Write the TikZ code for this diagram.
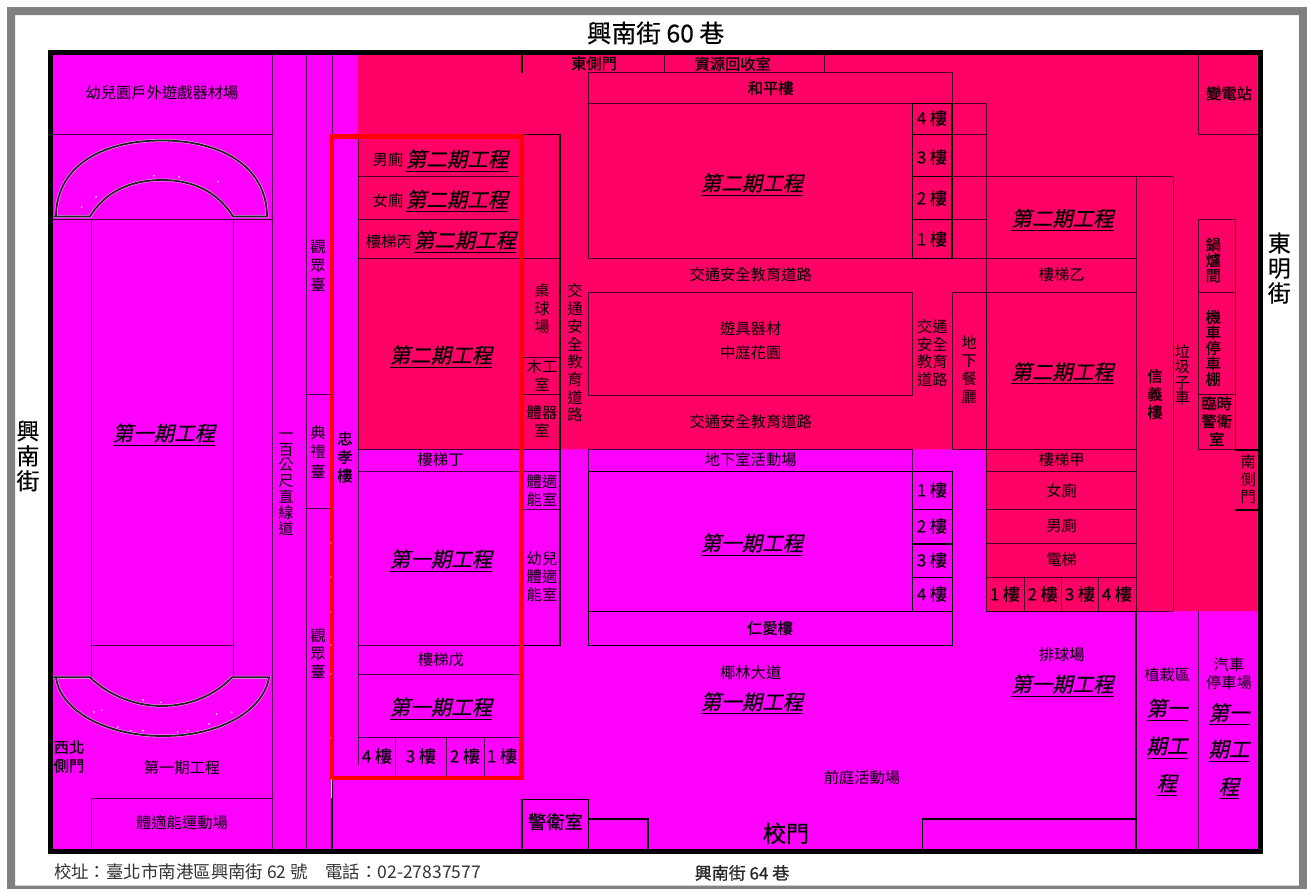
\documentclass[tikz,border=0pt]{standalone}
\usepackage{fontspec}
\setmainfont{Noto Sans CJK TC}
\newfontfamily\itf[FakeSlant=0.22,FakeBold=0.6]{Noto Sans CJK TC}
\newfontfamily\fbf[FakeBold=0.7]{Noto Sans CJK TC}
\newfontfamily\flf[FakeBold=0.3]{Noto Sans CJK TC}
\definecolor{mag}{HTML}{FF00FF}
\definecolor{pnk}{HTML}{FF0066}
\definecolor{frm}{HTML}{808080}
\newcounter{tn}
\newcommand\ulx[1]{\setbox0\hbox{#1}\rlap{\raisebox{-4.9pt}[0pt][0pt]{\rule{\wd0}{1pt}}}\box0}
\def\putt(#1,#2)[#3]#4{\stepcounter{tn}\node[lbl,#3] (t\arabic{tn}) at (#1,#2) {#4};}
\newcommand\ph[1]{\ulx{\itf #1}}
\tikzset{
 lbl/.style={inner sep=0pt,outer sep=0pt,align=center,text=black},
 fs/.style 2 args={font=\fontsize{#1}{#2}\selectfont},
 r15/.style={fs={15.3}{18}},
 v155/.style={fs={15.3}{15.5}},
 b15/.style={font=\fontsize{15.3}{18}\selectfont\fbf},
 fl/.style={font=\fontsize{17}{20}\selectfont\flf},
 big/.style={fs={20.5}{24}},
 ln/.style={line width=0.9pt,black,opacity=0.72},
 tk/.style={line width=1.5pt,black},
 arcb/.style={line width=1.8pt,black!85},
 arch/.style={line width=3pt,white,opacity=0.55},
}
\begin{document}
\begin{tikzpicture}[x=1pt,y=-1pt]
\useasboundingbox (0,0) rectangle (1307,889);
% page frame
\fill[white] (0,0) rectangle (1307,889);
\fill[frm,even odd rule] (7,7) rectangle (1307,889) (15,15) rectangle (1299,885.5);
% outer wall and grounds
\fill[black] (48,50) rectangle (1263,853.6);
\fill[mag] (53,55) rectangle (1257.6,848.5);
\fill[pnk] (358,55) -- (1257.6,55) -- (1257.6,611) -- (986,611) -- (986,449.3) -- (358,449.3) -- cycle;
% left: running track
\draw[ln] (53,134) -- (272.6,134);
\draw[ln] (53,219) -- (272.6,219);
\draw[ln] (272.6,55) -- (272.6,848.5);
\draw[ln] (306.5,55) -- (306.5,848.5);
\draw[ln] (332,55) -- (332,135);
\draw[tk] (332,778) -- (332,848.5);
\draw[ln] (306.5,394.7) -- (332,394.7);
\draw[ln] (306.5,508.7) -- (332,508.7);
\draw[ln] (91,219) -- (91,677);
\draw[ln] (233.3,219) -- (233.3,677);
\draw[ln] (91,645) -- (233.3,645);
\draw[ln] (91,848.5) -- (91,798.7) -- (272.6,798.7);
% track curves
\foreach \s in {arch,arcb}{
 \draw[\s] (54,216.5) -- (56,216.5) .. controls (56,169) and (98,140.5) .. (161.5,140.5) .. controls (225,140.5) and (267,169) .. (267,216.5) -- (233,216.5) .. controls (218,192) and (193,180) .. (162,180) .. controls (130,180) and (105,192) .. (90,216.5) -- (56,216.5);
 \draw[\s] (54,677.3) -- (56,677.3) .. controls (60,710) and (105,736) .. (163,736) .. controls (221,736) and (264,710) .. (269,677.3) -- (232,677.3) .. controls (215,695) and (190,706) .. (162,706) .. controls (135,706) and (108,695) .. (90,677.3) -- (56,677.3);
}
\foreach \x/\y in {81.7/207,96/197,154/175.7,179/177,218/181.7,94/712,101.7/710,216.7/714,231.7/712,209/724,143/700,160.7/702.3,118/727,131/730.7,143/730.7,177.7/732,187.7/730.7}
 \fill[white] (\x,\y) circle (0.8pt);
% west block
\draw[ln] (358,139) -- (358,765);
\foreach \y in {176.7,219.5,258.3,645.3}{\draw[ln] (358,\y) -- (520,\y);}
\foreach \y in {449.3,471.7,674.3,737.7}{\draw[ln] (358,\y) -- (520,\y);}
\foreach \x in {395.5,446.5,484}{\draw[ln] (\x,737.7) -- (\x,776);}
\draw[tk] (524,134.3) -- (560,134.3) -- (560,645.3) -- (524,645.3);
\foreach \y in {258.3,357.7,394.7,449.3,471.7,509.3}{\draw[ln] (524,\y) -- (560,\y);}
% top gates
\draw[tk] (522,55) -- (522,72.7);
\draw[ln] (664,55) -- (664,72.7);
\draw[ln] (824.5,55) -- (824.5,72.7);
% north building
\draw[ln] (588.3,72.7) rectangle (952,258.3);
\draw[ln] (588.3,103.3) -- (986,103.3);
\draw[tk] (912.3,103.3) rectangle (952,258.3);
\foreach \y in {134.5,176.7,219.5}{\draw[tk] (912.3,\y) -- (952,\y);\draw[ln] (952,\y) -- (986,\y);}
\draw[ln] (986,103.3) -- (986,611);
\draw[ln] (986,176.7) -- (1173,176.7);
\draw[ln] (952,258.3) -- (1136,258.3);
\draw[ln] (952.3,292.3) rectangle (986,449.3);
\draw[ln] (588.7,292.3) rectangle (912.3,395);
\draw[ln] (986,292.3) -- (1136,292.3);
% south building
\draw[ln] (588.7,471.7) -- (588.7,449.3) -- (912.3,449.3) -- (912.3,471.7);
\draw[tk] (588.7,471.7) rectangle (952.3,611.7);
\draw[tk] (912.3,471.7) -- (912.3,611.7);
\foreach \y in {509.7,544,577.7}{\draw[tk] (912.3,\y) -- (952.3,\y);}
\draw[tk] (588.7,611.7) rectangle (952.3,645.7);
% east block
\draw[ln] (1136,176.7) -- (1136,611);
\draw[tk] (1136,611) -- (1136,848.5);
\draw[ln] (1173,176.7) -- (1173,611);
\foreach \y in {449.3,471.7,509.3,543.3,577.3,611}{\draw[ln] (986,\y) -- (1136,\y);}
\foreach \x in {1024,1061.3,1098.3}{\draw[ln] (\x,577.3) -- (\x,611);}
\draw[ln] (986,611) -- (1173,611);
\draw[ln] (1198,55) -- (1198,134.5) -- (1257.6,134.5);
\draw[ln] (1198,219.3) rectangle (1235.3,449.3);
\draw[ln] (1198,292.3) -- (1235.3,292.3);
\draw[ln] (1198,394.7) -- (1235.3,394.7);
\draw[tk] (1235.3,450) -- (1257.6,450);
\draw[tk] (1235.3,510) -- (1257.6,510);
\draw[ln] (1198,611) -- (1198,848.5);
% front gate
\draw[tk] (522,848.5) -- (522,799.3) -- (588.7,799.3) -- (588.7,848.5);
\draw[tk] (588.7,819) -- (648,819) -- (648,848.5);
\draw[tk] (922.7,848.5) -- (922.7,819) -- (1136,819);
% red highlight
\draw[red,line width=4.6pt,line join=miter] (332,136.5) rectangle (521.7,777.8);
\draw[white,line width=0.8pt] (331,779) -- (331,798);
\foreach \y in {543,577,612,645,674,738}{\fill[white] (331,\y) circle (0.7pt);}
% ---- labels outside
\putt(655.5,33)[font=\fontsize{24.7}{28}\selectfont\flf]{興南街 60 巷}
\putt(28,456)[font=\fontsize{23}{25}\selectfont\flf]{興\\南\\街}
\putt(1279.3,268)[font=\fontsize{23}{25}\selectfont\flf]{東\\明\\街}
\putt(54,872)[fs={17.45}{20},anchor=west,text=black!80]{校址：臺北市南港區興南街 62 號　電話：02-27837577}
\putt(742,873)[font=\fontsize{17}{20}\selectfont\fbf,text=black!85]{興南街 64 巷}
% ---- left
\putt(162,93)[r15]{幼兒園戶外遊戲器材場}
\putt(164,433)[big]{\ph{第一期工程}}
\putt(69,756.5)[font=\fontsize{15.3}{18.5}\selectfont\fbf]{西北\\側門}
\putt(182,768)[r15]{第一期工程}
\putt(182,823)[r15]{體適能運動場}
\putt(318,266)[fs={15.3}{19}]{觀\\眾\\臺}
\putt(318,451.7)[fs={15.3}{19.5}]{典\\禮\\臺}
\putt(318,653.5)[r15]{觀\\眾\\臺}
\putt(286,484)[fs={15.3}{15.8}]{一\\百\\公\\尺\\直\\線\\道}
\putt(345,457)[font=\fontsize{15.3}{18.5}\selectfont\fbf]{忠\\孝\\樓}
% ---- west block
\putt(388,160)[r15]{男廁}
\putt(457,159)[big]{\ph{第二期工程}}
\putt(388,201)[r15]{女廁}
\putt(457,199.5)[big]{\ph{第二期工程}}
\putt(389,241.7)[r15]{樓梯丙}
\putt(465,240)[big]{\ph{第二期工程}}
\putt(441,355)[big]{\ph{第二期工程}}
\putt(440.6,460)[r15]{樓梯丁}
\putt(441,559)[big]{\ph{第一期工程}}
\putt(441,660)[r15]{樓梯戊}
\putt(441,707)[big]{\ph{第一期工程}}
\putt(377,756)[fl]{4 樓}
\putt(421,756)[fl]{3 樓}
\putt(465,756)[fl]{2 樓}
\putt(502,756)[fl]{1 樓}
\putt(542,309)[r15]{桌\\球\\場}
\putt(542,375.5)[r15]{木工\\室}
\putt(542,421)[r15]{體器\\室}
\putt(542,490.5)[r15]{體適\\能室}
\putt(542,577)[r15]{幼兒\\體適\\能室}
\putt(575,353)[fs={15.3}{17.7}]{交\\通\\安\\全\\教\\育\\道\\路}
% ---- north
\putt(594,63.3)[b15]{東側門}
\putt(732.7,63.7)[b15]{資源回收室}
\putt(770.7,88)[b15]{和平樓}
\putt(752,183)[big]{\ph{第二期工程}}
\putt(932,118)[fl]{4 樓}
\putt(932,157)[fl]{3 樓}
\putt(932,198)[fl]{2 樓}
\putt(932,239)[fl]{1 樓}
\putt(750.7,275)[r15]{交通安全教育道路}
\putt(750.7,329)[r15]{遊具器材}
\putt(750.7,352.7)[r15]{中庭花園}
\putt(750.7,421.7)[r15]{交通安全教育道路}
\putt(932.3,353)[fs={15.3}{17.7}]{交通\\安全\\教育\\道路}
\putt(969.3,370)[r15]{地\\下\\餐\\廳}
% ---- south
\putt(750.7,460)[r15]{地下室活動場}
\putt(752,543)[big]{\ph{第一期工程}}
\putt(932,490)[fl]{1 樓}
\putt(932,526)[fl]{2 樓}
\putt(932,560)[fl]{3 樓}
\putt(932,594)[fl]{4 樓}
\putt(770,628)[b15]{仁愛樓}
\putt(750.7,672.7)[r15]{椰林大道}
\putt(752,701.7)[big]{\ph{第一期工程}}
\putt(862,777.7)[r15]{前庭活動場}
\putt(555.5,821.7)[font=\fontsize{18.3}{20}\selectfont\fbf]{警衛室}
\putt(786,833.3)[font=\fontsize{23}{26}\selectfont\fbf]{校門}
% ---- east
\putt(1229,93.3)[b15]{變電站}
\putt(1062.5,218.3)[big]{\ph{第二期工程}}
\putt(1061.7,275)[r15]{樓梯乙}
\putt(1062.5,371.7)[big]{\ph{第二期工程}}
\putt(1061.7,460)[r15]{樓梯甲}
\putt(1061.7,490.7)[r15]{女廁}
\putt(1061.7,526)[r15]{男廁}
\putt(1061.7,560)[r15]{電梯}
\putt(1005,594)[fl]{1 樓}
\putt(1042.7,594)[fl]{2 樓}
\putt(1080,594)[fl]{3 樓}
\putt(1117,594)[fl]{4 樓}
\putt(1155,394)[b15]{信\\義\\樓}
\putt(1182.3,374.7)[v155]{垃\\圾\\子\\車}
\putt(1213.3,260)[font=\fontsize{15.3}{15.5}\selectfont\fbf]{鍋\\爐\\間}
\putt(1213.3,348)[font=\fontsize{15.3}{15.5}\selectfont\fbf]{機\\車\\停\\車\\棚}
\putt(1216.7,421)[b15]{臨時\\警衛\\室}
\putt(1248.3,479.3)[fs={15.3}{17.5}]{南\\側\\門}
\putt(1061.7,655)[r15]{排球場}
\putt(1062.5,684)[big]{\ph{第一期工程}}
\putt(1167.3,675)[r15]{植栽區}
\putt(1167,708)[big]{\ph{第一}}
\putt(1167,746)[big]{\ph{期工}}
\putt(1167,783.3)[big]{\ph{程}}
\putt(1229,674)[r15]{汽車\\停車場}
\putt(1229,712.7)[big]{\ph{第一}}
\putt(1229,749.3)[big]{\ph{期工}}
\putt(1229,786.7)[big]{\ph{程}}
\end{tikzpicture}
\end{document}
